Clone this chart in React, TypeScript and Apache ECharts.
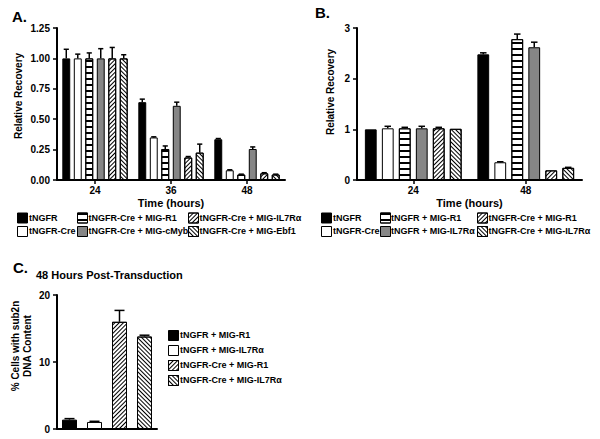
import React, { useEffect, useRef } from 'react';
import * as echarts from 'echarts';

const FONT = 'Liberation Sans, Arial, Helvetica, sans-serif';

// ---------- Panel A ----------
const timeA = ['24', '36', '48'];
const namesA = [
  'tNGFR',
  'tNGFR-Cre',
  'tNGFR-Cre + MIG-R1',
  'tNGFR-Cre + MIG-cMyb',
  'tNGFR-Cre + MIG-IL7Rα',
  'tNGFR-Cre + MIG-Ebf1',
];
const valuesA = [
  [1.0, 0.64, 0.335],
  [1.0, 0.35, 0.08],
  [1.0, 0.255, 0.045],
  [1.0, 0.61, 0.255],
  [1.0, 0.185, 0.055],
  [1.0, 0.225, 0.045],
];
const errorsA = [
  [0.075, 0.025, 0.006],
  [0.035, 0.005, 0.004],
  [0.045, 0.025, 0.003],
  [0.08, 0.03, 0.017],
  [0.09, 0.008, 0.005],
  [0.03, 0.07, 0.003],
];

// ---------- Panel B ----------
const timeB = ['24', '48'];
const namesB = [
  'tNGFR',
  'tNGFR-Cre',
  'tNGFR + MIG-R1',
  'tNGFR + MIG-IL7Rα',
  'tNGFR-Cre + MIG-R1',
  'tNGFR-Cre + MIG-IL7Rα',
];
const valuesB = [
  [1.0, 2.48],
  [1.02, 0.35],
  [1.02, 2.78],
  [1.02, 2.62],
  [1.02, 0.19],
  [1.01, 0.24],
];
const errorsB = [
  [0, 0.03],
  [0.04, 0.01],
  [0.02, 0.1],
  [0.04, 0.1],
  [0.02, 0],
  [0, 0.01],
];

// ---------- Panel C ----------
const groupsC = ['tNGFR + MIG-R1', 'tNGFR + MIG-IL7Rα', 'tNGFR-Cre + MIG-R1', 'tNGFR-Cre + MIG-IL7Rα'];
const valuesC = [1.4, 1.05, 16.0, 13.8];
const errorsC = [0.15, 0.1, 1.7, 0.2];

// ---------- styles ----------
const decalH = { symbol: 'rect', symbolSize: 1, color: '#000', backgroundColor: '#fff', dashArrayX: [1, 0], dashArrayY: [2, 4], rotation: 0 };
const decalF = { symbol: 'rect', symbolSize: 1, color: '#000', backgroundColor: '#fff', dashArrayX: [1, 0], dashArrayY: [1, 2], rotation: -Math.PI / 4 };
const decalB = { symbol: 'rect', symbolSize: 1, color: '#000', backgroundColor: '#fff', dashArrayX: [1, 0], dashArrayY: [1, 2], rotation: Math.PI / 4 };

const BLACK = { color: '#000' };
const WHITE = { color: '#fff' };
const STRIPE = { color: '#fff', decal: decalH };
const GRAY = { color: '#868686' };
const FWD = { color: '#fff', decal: decalF };
const BACK = { color: '#fff', decal: decalB };

const stylesA = [BLACK, WHITE, STRIPE, GRAY, FWD, BACK];
const stylesB = [BLACK, WHITE, STRIPE, GRAY, FWD, BACK];
const stylesC = [BLACK, WHITE, FWD, BACK];

const tickLabel = { color: '#000', fontWeight: 'bold', fontSize: 10, fontFamily: FONT };
const LEGEND_FONT = `bold 9px ${FONT}`;

function errorRenderer(n: number, gapPct: number, catGapPct: number, capRatio: number) {
  return (params: any, api: any) => {
    const cat = api.value(0);
    const idx = api.value(1);
    const val = api.value(2);
    const err = api.value(3);
    const band = api.size([1, 0])[0];
    const usable = band * (1 - catGapPct);
    const w = usable / (n + (n - 1) * gapPct);
    const total = w * n + w * gapPct * (n - 1);
    const center = api.coord([cat, 0])[0];
    const x = center - total / 2 + idx * w * (1 + gapPct) + w / 2;
    const y0 = api.coord([cat, val])[1];
    const y1 = api.coord([cat, val + err])[1];
    const cap = (w * capRatio) / 2;
    const st = { stroke: '#000', lineWidth: 1.5 };
    return {
      type: 'group',
      children: [
        { type: 'line', shape: { x1: x, y1: y0, x2: x, y2: y1 }, style: st },
        { type: 'line', shape: { x1: x - cap, y1: y1, x2: x + cap, y2: y1 }, style: st },
      ],
    };
  };
}

function xAxisCat(data: string[], showName: boolean) {
  return {
    type: 'category',
    data,
    axisLine: { show: true, lineStyle: { color: '#000', width: 2 } },
    axisTick: { show: showName, alignWithLabel: true, length: 4, lineStyle: { color: '#000', width: 1.5 } },
    axisLabel: { show: showName, ...tickLabel, margin: 5 },
    name: showName ? 'Time (hours)' : '',
    nameLocation: 'middle',
    nameGap: 17,
    nameTextStyle: { color: '#000', fontWeight: 'bold', fontSize: 11, fontFamily: FONT },
  };
}

function yAxisVal(max: number, interval: number, fmt?: (v: number) => string) {
  return {
    type: 'value',
    min: 0,
    max,
    interval,
    axisLine: { show: true, lineStyle: { color: '#000', width: 2 } },
    axisTick: { show: true, length: 4, lineStyle: { color: '#000', width: 1.5 } },
    axisLabel: { ...tickLabel, margin: 7, formatter: fmt },
    splitLine: { show: false },
  };
}

// legend swatch (icon only) + label text placed precisely
type LegendPos = { name: string; sx: number; tx: number; cy: number };

function legendSwatches(items: LegendPos[]) {
  return items.map((it) => ({
    data: [it.name],
    left: it.sx,
    top: it.cy - 5,
    padding: 0,
    itemWidth: 10,
    itemHeight: 10,
    icon: 'rect',
    selectedMode: false,
    formatter: () => '',
    textStyle: { fontSize: 1 },
    itemStyle: { borderColor: '#000', borderWidth: 1 },
  }));
}

function legendTexts(items: LegendPos[]) {
  return items.map((it) => ({
    type: 'text',
    x: it.tx,
    y: it.cy,
    z: 10,
    style: { text: it.name, fill: '#000', font: LEGEND_FONT, verticalAlign: 'middle', align: 'left' },
  }));
}

const legendA: LegendPos[] = [
  { name: namesA[0], sx: 17, tx: 29, cy: 217.5 },
  { name: namesA[1], sx: 17, tx: 29, cy: 231 },
  { name: namesA[2], sx: 77, tx: 88.5, cy: 217.5 },
  { name: namesA[3], sx: 77, tx: 88.5, cy: 231 },
  { name: namesA[4], sx: 188, tx: 199.5, cy: 217.5 },
  { name: namesA[5], sx: 188, tx: 199.5, cy: 231 },
];
const legendB: LegendPos[] = [
  { name: namesB[0], sx: 321, tx: 333, cy: 217.5 },
  { name: namesB[1], sx: 321, tx: 333, cy: 231 },
  { name: namesB[2], sx: 380, tx: 391, cy: 217.5 },
  { name: namesB[3], sx: 380, tx: 391, cy: 231 },
  { name: namesB[4], sx: 477, tx: 488.5, cy: 217.5 },
  { name: namesB[5], sx: 477, tx: 488.5, cy: 231 },
];
const legendC: LegendPos[] = groupsC.map((name, i) => ({ name, sx: 168, tx: 180, cy: 335 + i * 15 }));

function groupedBars(names: string[], values: number[][], styles: any[], gap: string) {
  return names.map((name, i) => ({
    type: 'bar',
    name,
    data: values[i],
    barGap: gap,
    barCategoryGap: '14%',
    itemStyle: { ...styles[i], borderColor: '#000', borderWidth: 1 },
    emphasis: { disabled: true },
  }));
}

function errorData(values: number[][], errors: number[][]) {
  const out: number[][] = [];
  values.forEach((row, s) => row.forEach((v, c) => {
    if (errors[s][c] > 0) out.push([c, s, v, errors[s][c]]);
  }));
  return out;
}

const optionA = {
  animation: false,
  title: [{ text: 'A.', left: 12, top: 9, padding: 0, textStyle: { fontSize: 15, fontWeight: 'bold', color: '#000', fontFamily: FONT } }],
  grid: { left: 57, top: 28, width: 228, height: 152 },
  xAxis: xAxisCat(timeA, true),
  yAxis: yAxisVal(1.25, 0.25, (v: number) => v.toFixed(2)),
  legend: legendSwatches(legendA),
  graphic: [
    { type: 'text', x: 18, y: 96, rotation: Math.PI / 2, style: { text: 'Relative Recovery', fill: '#000', font: `bold 10px ${FONT}`, align: 'center', verticalAlign: 'middle' } },
    ...legendTexts(legendA),
  ],
  series: [
    ...groupedBars(namesA, valuesA, stylesA, '45%'),
    { type: 'custom', z: 3, renderItem: errorRenderer(6, 0.45, 0.14, 0.65), data: errorData(valuesA, errorsA), encode: { x: 0, y: 2 } },
  ],
};

const optionB = {
  animation: false,
  title: [{ text: 'B.', left: 315, top: 5, padding: 0, textStyle: { fontSize: 15, fontWeight: 'bold', color: '#000', fontFamily: FONT } }],
  grid: { left: 357, top: 28, width: 225, height: 152 },
  xAxis: xAxisCat(timeB, true),
  yAxis: yAxisVal(3, 1),
  legend: legendSwatches(legendB),
  graphic: [
    { type: 'text', x: 330, y: 92, rotation: Math.PI / 2, style: { text: 'Relative Recovery', fill: '#000', font: `bold 10px ${FONT}`, align: 'center', verticalAlign: 'middle' } },
    ...legendTexts(legendB),
  ],
  series: [
    ...groupedBars(namesB, valuesB, stylesB, '44%'),
    { type: 'custom', z: 3, renderItem: errorRenderer(6, 0.44, 0.14, 0.55), data: errorData(valuesB, errorsB), encode: { x: 0, y: 2 } },
  ],
};

const optionC = {
  animation: false,
  title: [
    { text: 'C.', left: 13, top: 260, padding: 0, textStyle: { fontSize: 15, fontWeight: 'bold', color: '#000', fontFamily: FONT } },
    { text: '48 Hours Post-Transduction', left: 36, top: 269, padding: 0, textStyle: { fontSize: 11, fontWeight: 'bold', color: '#000', fontFamily: FONT } },
  ],
  grid: { left: 57, top: 295, width: 100, height: 134 },
  xAxis: xAxisCat(groupsC, false),
  yAxis: yAxisVal(20, 10),
  legend: legendSwatches(legendC),
  graphic: [
    { type: 'text', x: 21.5, y: 346, rotation: Math.PI / 2, style: { text: '% Cells with sub2n\nDNA Content', fill: '#000', font: `bold 10px ${FONT}`, lineHeight: 12, align: 'center', verticalAlign: 'middle' } },
    ...legendTexts(legendC),
  ],
  series: [
    ...groupsC.map((name, i) => ({
      type: 'bar',
      name,
      stack: 'c',
      barWidth: 15,
      data: groupsC.map((_, j) => (j === i ? valuesC[i] : '-')),
      itemStyle: { ...stylesC[i], borderColor: '#000', borderWidth: 1 },
      emphasis: { disabled: true },
    })),
    {
      type: 'custom',
      z: 3,
      renderItem: (params: any, api: any) => {
        const cat = api.value(0);
        const val = api.value(2);
        const err = api.value(3);
        const x = api.coord([cat, 0])[0];
        const y0 = api.coord([cat, val])[1];
        const y1 = api.coord([cat, val + err])[1];
        const st = { stroke: '#000', lineWidth: 1.5 };
        return {
          type: 'group',
          children: [
            { type: 'line', shape: { x1: x, y1: y0, x2: x, y2: y1 }, style: st },
            { type: 'line', shape: { x1: x - 5, y1: y1, x2: x + 5, y2: y1 }, style: st },
          ],
        };
      },
      data: valuesC.map((v, i) => [i, i, v, errorsC[i]]),
      encode: { x: 0, y: 2 },
    },
  ],
};

function Chart({ option }: { option: any }) {
  const ref = useRef<HTMLDivElement>(null);
  useEffect(() => {
    const chart = echarts.init(ref.current as HTMLDivElement, null, { renderer: 'svg' });
    chart.setOption(option);
    return () => chart.dispose();
  }, [option]);
  return <div ref={ref} style={{ position: 'absolute', left: 0, top: 0, width: 600, height: 439 }} />;
}

export default function App() {
  return (
    <div style={{ position: 'absolute', left: 0, top: 0, width: 600, height: 439, background: '#fff' }}>
      <Chart option={optionA} />
      <Chart option={optionB} />
      <Chart option={optionC} />
    </div>
  );
}
